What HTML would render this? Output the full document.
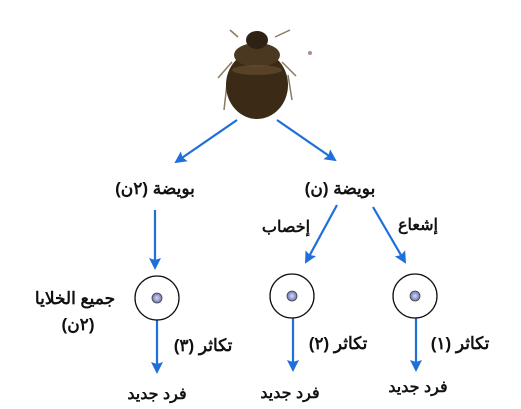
<!DOCTYPE html>
<html><head><meta charset="utf-8"><style>
body{margin:0;background:#fff;}
svg{display:block}
text{font-family:"Liberation Sans","Noto Sans CJK SC",sans-serif;font-weight:bold;fill:#111;}
</style></head><body>
<svg width="521" height="409" viewBox="0 0 521 409">
<defs>
<marker id="a" markerWidth="12" markerHeight="12" refX="10" refY="6" orient="auto" markerUnits="userSpaceOnUse">
<path d="M0,0 L12,6 L0,12 L2,6 Z" fill="#1e6fd9"/></marker>
<radialGradient id="g"><stop offset="0" stop-color="#d8dcf4"/><stop offset="1" stop-color="#6a72b0"/></radialGradient>
</defs>
<rect width="521" height="409" fill="#fff"/>
<g stroke="#8a7a60" stroke-width="1.5" fill="none">
<path d="M238,37 L230,30 M275,37 L290,30 M232,62 L218,78 M282,62 L296,76 M228,75 L224,110 M288,75 L292,100"/>
</g>
<ellipse cx="257" cy="85" rx="31" ry="34" fill="#3a2a16"/>
<ellipse cx="257" cy="55" rx="23" ry="12" fill="#4a3820"/>
<ellipse cx="257" cy="40" rx="11" ry="9" fill="#2e2214"/>
<ellipse cx="257" cy="70" rx="25" ry="5" fill="#6a5434" opacity=".6"/>
<circle cx="310" cy="53" r="2" fill="#b08a90"/>
<g stroke="#1e6fd9" stroke-width="2.2" marker-end="url(#a)">
<line x1="237" y1="120" x2="176" y2="162"/>
<line x1="277" y1="120" x2="335" y2="160"/>
<line x1="155" y1="210" x2="155" y2="268"/>
<line x1="337" y1="205" x2="306" y2="262"/>
<line x1="373" y1="207" x2="405" y2="262"/>
<line x1="157" y1="320" x2="157" y2="372"/>
<line x1="293" y1="318" x2="293" y2="370"/>
<line x1="416" y1="318" x2="416" y2="370"/>
</g>
<g fill="none" stroke="#111" stroke-width="1.3">
<circle cx="157" cy="298" r="22"/><circle cx="292" cy="296" r="22"/><circle cx="415" cy="296" r="22"/>
</g>
<g fill="url(#g)" stroke="#444" stroke-width=".8">
<circle cx="157" cy="298" r="5"/><circle cx="292" cy="296" r="5"/><circle cx="415" cy="296" r="5"/>
</g>
<g font-size="17" text-anchor="middle">
<text x="155" y="194">بويضة (٢ن)</text>
<text x="340" y="194">بويضة (ن)</text>
<text x="286" y="232" font-size="16">إخصاب</text>
<text x="418" y="230" font-size="16">إشعاع</text>
<text x="75" y="304">جميع الخلايا</text>
<text x="78" y="330">(٢ن)</text>
<text x="203" y="351">تكاثر (٣)</text>
<text x="338" y="349">تكاثر (٢)</text>
<text x="460" y="349">تكاثر (١)</text>
<text x="157" y="399" font-size="16">فرد جديد</text>
<text x="290" y="398" font-size="16">فرد جديد</text>
<text x="418" y="392" font-size="16">فرد جديد</text>
</g>
</svg>
</body></html>
